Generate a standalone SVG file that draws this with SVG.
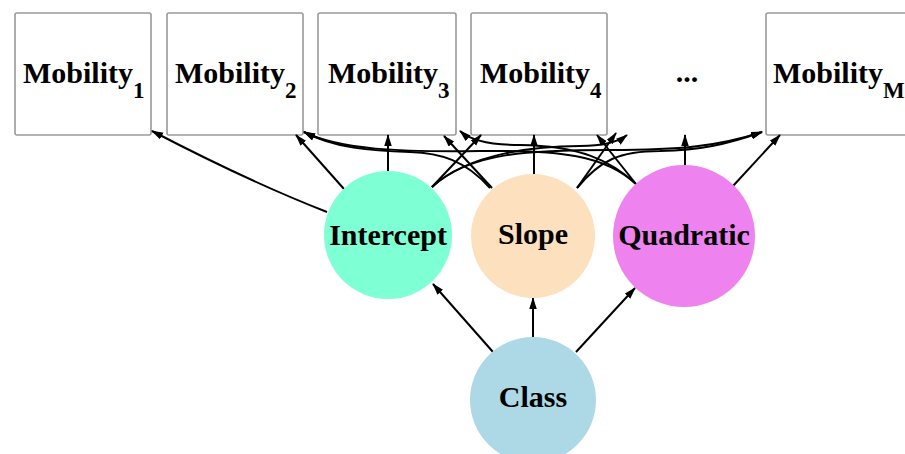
<svg xmlns="http://www.w3.org/2000/svg" width="905" height="454" viewBox="0 0 905 454">
  <defs>
    <marker id="arrow" markerUnits="userSpaceOnUse" markerWidth="12" markerHeight="8" refX="11" refY="3.75" orient="auto">
      <path d="M0,0 L12,3.75 L0,7.5 z" fill="#000"/>
    </marker>
    <style>
      .box { fill: #fff; stroke: #9a9a9a; stroke-width: 1.6; }
      .lbl { font-family: "Liberation Serif", "Times New Roman", serif; font-weight: bold; font-size: 30px; fill: #000; }
      .sub { font-size: 23px; }
      .mid { text-anchor: middle; }
      .edge { fill: none; stroke: #000; stroke-width: 2; marker-end: url(#arrow); }
    </style>
  </defs>

  <rect width="905" height="454" fill="#fff"/>

  <!-- observed measures -->
  <g id="mobility1">
    <rect class="box" x="15" y="13" width="136" height="122" rx="2"/>
    <text class="lbl" x="23" y="83">Mobility<tspan class="sub" dy="15">1</tspan></text>
  </g>
  <g id="mobility2">
    <rect class="box" x="167" y="13" width="136" height="122" rx="2"/>
    <text class="lbl" x="175" y="83">Mobility<tspan class="sub" dy="15">2</tspan></text>
  </g>
  <g id="mobility3">
    <rect class="box" x="318" y="13" width="138" height="122" rx="2"/>
    <text class="lbl" x="328" y="83">Mobility<tspan class="sub" dy="15">3</tspan></text>
  </g>
  <g id="mobility4">
    <rect class="box" x="471" y="13" width="136" height="122" rx="2"/>
    <text class="lbl" x="480" y="83">Mobility<tspan class="sub" dy="15">4</tspan></text>
  </g>
  <g id="ellipsis">
    <text class="lbl mid" x="687" y="82">...</text>
  </g>
  <g id="mobilityM">
    <rect class="box" x="766" y="13" width="150" height="122" rx="2"/>
    <text class="lbl" x="773" y="83">Mobility<tspan class="sub" dy="15">M</tspan></text>
  </g>

  <!-- connectors -->
  <g id="edges">
    <!-- intercept loadings -->
    <path class="edge" d="M327,212 Q250,182 152,131"/>
    <path class="edge" d="M344,189 L296,135"/>
    <path class="edge" d="M388,171 L388,135"/>
    <path class="edge" d="M432,187 L481,135"/>
    <path class="edge" d="M432,187 C470,152 540,146 580,146 C605,146 618,142 627,135"/>
    <path class="edge" d="M432,187 C470,152 530,150 610,150 C680,150 720,146 762,132"/>
    <!-- slope loadings -->
    <path class="edge" d="M490,188 C465,160 440,153 410,152 C370,151 335,148 304,132"/>
    <path class="edge" d="M492,188 L444,136"/>
    <path class="edge" d="M534,174 L534,135"/>
    <path class="edge" d="M577,188 L616,133"/>
    <path class="edge" d="M577,188 C600,160 620,151 660,151 C700,150 725,145 762,132"/>
    <!-- quadratic loadings -->
    <path class="edge" d="M636,184 C605,155 560,150 480,151 C400,152 340,150 304,132"/>
    <path class="edge" d="M636,184 C610,160 580,146 520,145 C490,145 470,140 460,131"/>
    <path class="edge" d="M636,184 L597,135"/>
    <path class="edge" d="M685,165 L685,135"/>
    <path class="edge" d="M733,186 L780,135"/>
    <!-- class effects -->
    <path class="edge" d="M493,352 L433,284"/>
    <path class="edge" d="M533,337 L533,298"/>
    <path class="edge" d="M576,352 L635,288"/>
  </g>

  <!-- growth factors -->
  <g id="intercept">
    <circle cx="388" cy="235" r="64" fill="#7FFFD4"/>
    <text class="lbl mid" x="388" y="245">Intercept</text>
  </g>
  <g id="slope">
    <circle cx="533" cy="236" r="62" fill="#FDE0BE"/>
    <text class="lbl mid" x="533" y="244">Slope</text>
  </g>
  <g id="quadratic">
    <circle cx="684" cy="236" r="71" fill="#EE82EE"/>
    <text class="lbl mid" x="684" y="245">Quadratic</text>
  </g>
  <g id="class">
    <circle cx="533" cy="400" r="63" fill="#ADD8E6"/>
    <text class="lbl mid" x="533" y="407">Class</text>
  </g>
</svg>
